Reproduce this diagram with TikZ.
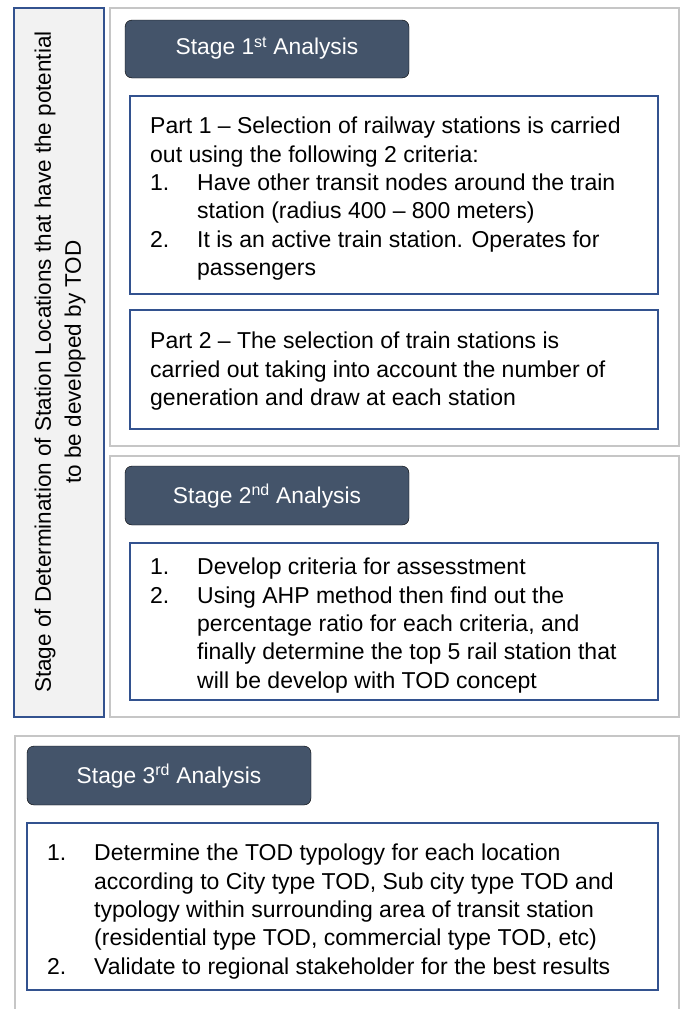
\documentclass[tikz,border=0pt]{standalone}
\usepackage{fontspec}
\setmainfont{Liberation Sans}
\definecolor{hdr}{HTML}{44546A}
\definecolor{bluebd}{HTML}{33528F}
\definecolor{panelbd}{HTML}{C6C6C6}
\definecolor{sidefill}{HTML}{F2F2F2}
\newcommand{\itm}[1]{\makebox[47pt][l]{#1}}
\newcommand{\cont}{\hspace*{47pt}}
\begin{document}
\begin{tikzpicture}[x=1pt,y=-1pt,
  panel/.style={draw=panelbd, line width=2pt},
  header/.style={fill=hdr, rounded corners=7pt},
  bluebox/.style={draw=bluebd, line width=1.6pt, fill=white},
  body/.style={anchor=north west, inner sep=0pt, align=left, font=\fontsize{23}{28.3}\selectfont},
  htext/.style={text=white, font=\fontsize{22.8}{26}\selectfont, inner sep=0pt}
]
\useasboundingbox (0,0) rectangle (685,1009);
\fill[white] (0,0) rectangle (685,1009);

% side box
\draw[draw=bluebd, line width=1.6pt, fill=sidefill] (14,8) rectangle (104,717);
\node[rotate=90, align=center, inner sep=0pt, font=\fontsize{22.5}{30}\selectfont] (side) at (60,362)
  {Stage of Determination of Station Locations that have the potential\\to be developed by TOD};

% Stage 1 panel
\draw[panel] (110,8) rectangle (679,446);
\draw[header] (125,20) rectangle (409,78);
\node[htext] (h1) at (267,48) {Stage 1\textsuperscript{st} Analysis};
\draw[bluebox] (130,96) rectangle (658,294);
\node[body] (p1) at (150,117) {Part 1 -- Selection of railway stations is carried\\
out using the following 2 criteria:\\
\itm{1.}Have other transit nodes around the train\\
\cont station (radius 400 -- 800 meters)\\
\itm{2.}It is an active train station. Operates for\\
\cont passengers};
\draw[bluebox] (130,310) rectangle (658,429);
\node[body] (p2) at (150,332) {Part 2 -- The selection of train stations is\\
carried out taking into account the number of\\
generation and draw at each station};

% Stage 2 panel
\draw[panel] (110,456) rectangle (679,717);
\draw[header] (125,466) rectangle (409,525);
\node[htext] (h2) at (267,496) {Stage 2\textsuperscript{nd} Analysis};
\draw[bluebox] (130,543) rectangle (658,700);
\node[body] (s2) at (150,558) {\itm{1.}Develop criteria for assesstment\\
\itm{2.}Using AHP method then find out the\\
\cont percentage ratio for each criteria, and\\
\cont finally determine the top 5 rail station that\\
\cont will be develop with TOD concept};

% Stage 3 panel
\draw[panel] (15,1012) -- (15,736) -- (679,736) -- (679,1012);
\draw[header] (27,746) rectangle (311,805);
\node[htext] (h3) at (169,776) {Stage 3\textsuperscript{rd} Analysis};
\draw[bluebox] (27,823) rectangle (658,990);
\node[body] (s3) at (47,844) {\itm{1.}Determine the TOD typology for each location\\
\cont according to City type TOD, Sub city type TOD and\\
\cont typology within surrounding area of transit station\\
\cont (residential type TOD, commercial type TOD, etc)\\
\itm{2.}Validate to regional stakeholder for the best results};
\end{tikzpicture}
\end{document}
